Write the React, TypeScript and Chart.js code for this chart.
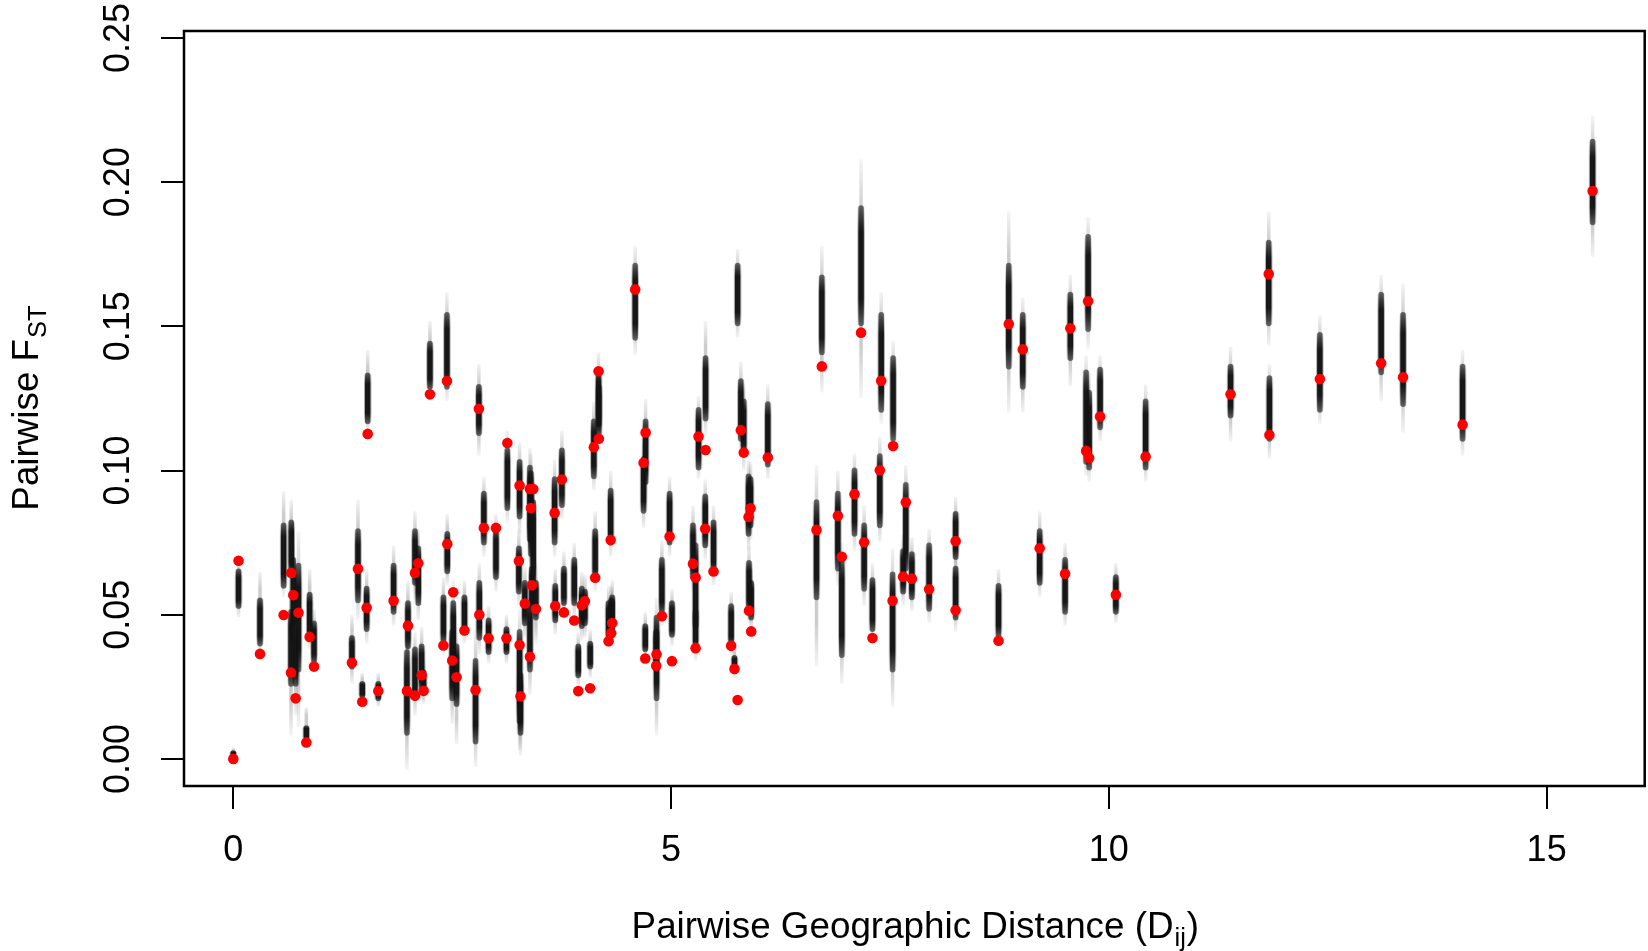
import React, { useEffect, useRef } from "react";
import { Chart, registerables } from "chart.js";

Chart.register(...registerables);

const FONT = '"Liberation Sans", Arial, Helvetica, sans-serif';

// Pairwise geographic distance (x) for every population pair
const distance = [
  0.0, 0.06, 0.305, 0.575, 0.662, 0.685, 0.659, 0.712, 0.745, 0.834,
  0.872, 0.922, 1.355, 1.424, 1.473, 1.523, 1.535, 1.656, 1.831, 1.995,
  1.983, 2.075, 2.075, 2.113, 2.151, 2.174, 2.246, 2.4, 2.44, 2.444,
  2.512, 2.5, 2.55, 2.64, 2.767, 2.805, 2.81, 2.862, 2.916, 3.0,
  3.12, 3.13, 3.262, 3.27, 3.28, 3.27, 3.33, 3.388, 3.4, 3.426,
  3.41, 3.388, 3.456, 3.753, 3.67, 3.677, 3.776, 3.894, 3.94, 3.98,
  4.016, 4.076, 4.118, 4.133, 4.172, 4.175, 4.286, 4.31, 4.316, 4.328,
  4.59, 4.686, 4.709, 4.705, 4.834, 4.83, 4.895, 4.983, 5.01, 5.25,
  5.28, 5.28, 5.314, 5.394, 5.39, 5.485, 5.686, 5.724, 5.76, 5.797,
  5.83, 5.885, 5.908, 5.89, 5.915, 6.105, 6.661, 6.722, 6.905, 6.95,
  7.095, 7.17, 7.205, 7.3, 7.384, 7.4, 7.53, 7.536, 7.65, 7.681,
  7.75, 7.947, 8.25, 8.25, 8.74, 8.857, 9.017, 9.21, 9.5, 9.56,
  9.74, 9.775, 9.763, 9.9, 10.08, 10.42, 11.39, 11.826, 11.834, 12.41,
  13.11, 13.36, 14.04, 15.525,
];

// Observed pairwise FST (red points)
const fstObserved = [
  0.0, 0.0687, 0.0364, 0.0499, 0.0645, 0.0568, 0.0299, 0.021, 0.0507, 0.0057,
  0.0423, 0.032, 0.0333, 0.0659, 0.0198, 0.0524, 0.1127, 0.0235, 0.0548, 0.0462,
  0.0235, 0.022, 0.0645, 0.0678, 0.029, 0.0236, 0.1264, 0.0393, 0.131, 0.0745,
  0.0578, 0.0341, 0.0283, 0.0445, 0.0239, 0.1214, 0.05, 0.0801, 0.0418, 0.0801,
  0.0418, 0.1095, 0.0686, 0.0395, 0.0217, 0.0948, 0.0539, 0.0354, 0.087, 0.0936,
  0.0602, 0.0936, 0.052, 0.0969, 0.0853, 0.053, 0.0508, 0.048, 0.0235, 0.0533,
  0.0547, 0.0245, 0.1081, 0.0628, 0.1344, 0.111, 0.0408, 0.0759, 0.0436, 0.0471,
  0.1628, 0.1027, 0.1132, 0.0348, 0.0363, 0.0323, 0.0495, 0.0771, 0.0339, 0.0677,
  0.0629, 0.0384, 0.1118, 0.1071, 0.0798, 0.065, 0.0392, 0.0312, 0.0204, 0.114,
  0.1062, 0.0839, 0.0869, 0.0514, 0.0442, 0.1045, 0.0794, 0.1361, 0.0843, 0.0701,
  0.0918, 0.1478, 0.0751, 0.0419, 0.1001, 0.1311, 0.0548, 0.1085, 0.0632, 0.089,
  0.0625, 0.0588, 0.0755, 0.0515, 0.041, 0.1508, 0.142, 0.073, 0.0642, 0.1493,
  0.1068, 0.1043, 0.1587, 0.1187, 0.0569, 0.1048, 0.1264, 0.1681, 0.1123, 0.1317,
  0.1372, 0.1323, 0.1159, 0.1969,
];

// Posterior FST: dense central range
const coreLow = [
  0.0, 0.052, 0.039, 0.059, 0.064, 0.04, 0.025, 0.025, 0.03, 0.0065,
  0.041, 0.033, 0.031, 0.054, 0.021, 0.044, 0.116, 0.02, 0.05, 0.038,
  0.008, 0.02, 0.06, 0.053, 0.024, 0.022, 0.128, 0.04, 0.128, 0.064,
  0.03, 0.02, 0.018, 0.043, 0.005, 0.112, 0.041, 0.074, 0.036, 0.062,
  0.036, 0.086, 0.057, 0.012, 0.008, 0.083, 0.046, 0.03, 0.07, 0.06,
  0.051, 0.075, 0.048, 0.087, 0.074, 0.047, 0.053, 0.053, 0.028, 0.045,
  0.046, 0.031, 0.097, 0.062, 0.115, 0.112, 0.041, 0.074, 0.042, 0.044,
  0.145, 0.085, 0.095, 0.037, 0.02, 0.03, 0.05, 0.074, 0.042, 0.062,
  0.045, 0.038, 0.1, 0.117, 0.073, 0.064, 0.039, 0.03, 0.15, 0.11,
  0.105, 0.077, 0.08, 0.051, 0.048, 0.101, 0.055, 0.14, 0.065, 0.035,
  0.077, 0.15, 0.058, 0.044, 0.08, 0.12, 0.03, 0.11, 0.057, 0.065,
  0.055, 0.051, 0.069, 0.048, 0.042, 0.135, 0.128, 0.06, 0.05, 0.138,
  0.102, 0.1, 0.148, 0.114, 0.05, 0.1, 0.118, 0.15, 0.11, 0.12,
  0.133, 0.122, 0.11, 0.185,
];
const coreHigh = [
  0.003, 0.066, 0.056, 0.082, 0.083, 0.07, 0.052, 0.045, 0.068, 0.0117,
  0.058, 0.048, 0.043, 0.08, 0.027, 0.06, 0.134, 0.027, 0.068, 0.055,
  0.038, 0.039, 0.08, 0.074, 0.04, 0.031, 0.145, 0.057, 0.155, 0.079,
  0.055, 0.045, 0.04, 0.057, 0.035, 0.13, 0.062, 0.093, 0.049, 0.08,
  0.046, 0.108, 0.074, 0.045, 0.03, 0.104, 0.062, 0.055, 0.1, 0.09,
  0.067, 0.102, 0.062, 0.108, 0.098, 0.061, 0.067, 0.07, 0.04, 0.06,
  0.059, 0.041, 0.118, 0.08, 0.135, 0.13, 0.055, 0.094, 0.056, 0.057,
  0.172, 0.105, 0.118, 0.047, 0.05, 0.045, 0.07, 0.093, 0.055, 0.082,
  0.075, 0.052, 0.122, 0.14, 0.092, 0.083, 0.054, 0.036, 0.172, 0.132,
  0.125, 0.099, 0.098, 0.069, 0.062, 0.124, 0.09, 0.168, 0.093, 0.07,
  0.101, 0.192, 0.082, 0.063, 0.106, 0.155, 0.065, 0.14, 0.073, 0.096,
  0.072, 0.075, 0.086, 0.067, 0.061, 0.172, 0.155, 0.08, 0.07, 0.162,
  0.135, 0.128, 0.182, 0.136, 0.064, 0.125, 0.137, 0.18, 0.133, 0.148,
  0.162, 0.155, 0.137, 0.215,
];

// Posterior FST: faint outer range
const tailLow = [
  0.0, 0.049, 0.036, 0.056, 0.06, 0.03, 0.008, 0.015, 0.011, 0.005,
  0.038, 0.03, 0.026, 0.048, 0.019, 0.04, 0.113, 0.018, 0.046, 0.032,
  -0.004, 0.015, 0.055, 0.048, 0.02, 0.019, 0.124, 0.036, 0.124, 0.06,
  0.022, 0.012, 0.005, 0.04, -0.003, 0.105, 0.036, 0.07, 0.033, 0.058,
  0.033, 0.082, 0.053, 0.003, 0.001, 0.078, 0.042, 0.022, 0.062, 0.05,
  0.046, 0.068, 0.04, 0.083, 0.07, 0.043, 0.049, 0.049, 0.025, 0.041,
  0.042, 0.028, 0.093, 0.058, 0.11, 0.108, 0.038, 0.07, 0.039, 0.04,
  0.14, 0.08, 0.09, 0.034, 0.008, 0.026, 0.046, 0.07, 0.039, 0.058,
  0.038, 0.034, 0.097, 0.112, 0.069, 0.06, 0.036, 0.028, 0.146, 0.105,
  0.1, 0.072, 0.076, 0.047, 0.044, 0.097, 0.032, 0.127, 0.06, 0.026,
  0.072, 0.125, 0.053, 0.04, 0.075, 0.116, 0.018, 0.105, 0.053, 0.06,
  0.051, 0.047, 0.065, 0.044, 0.039, 0.12, 0.12, 0.056, 0.046, 0.129,
  0.098, 0.096, 0.142, 0.11, 0.047, 0.096, 0.11, 0.143, 0.104, 0.116,
  0.124, 0.113, 0.105, 0.174,
];
const tailHigh = [
  0.004, 0.07, 0.065, 0.093, 0.09, 0.082, 0.062, 0.055, 0.079, 0.018,
  0.066, 0.052, 0.05, 0.09, 0.03, 0.066, 0.142, 0.03, 0.074, 0.062,
  0.048, 0.044, 0.086, 0.08, 0.046, 0.035, 0.152, 0.063, 0.162, 0.085,
  0.062, 0.05, 0.046, 0.062, 0.045, 0.137, 0.068, 0.098, 0.053, 0.085,
  0.05, 0.114, 0.08, 0.052, 0.036, 0.11, 0.067, 0.06, 0.106, 0.098,
  0.072, 0.108, 0.068, 0.114, 0.104, 0.066, 0.072, 0.075, 0.044, 0.065,
  0.064, 0.045, 0.124, 0.086, 0.141, 0.136, 0.06, 0.1, 0.06, 0.062,
  0.178, 0.11, 0.125, 0.051, 0.056, 0.05, 0.076, 0.098, 0.059, 0.088,
  0.08, 0.058, 0.126, 0.152, 0.097, 0.088, 0.058, 0.04, 0.177, 0.138,
  0.13, 0.104, 0.103, 0.074, 0.066, 0.13, 0.102, 0.178, 0.1, 0.075,
  0.106, 0.208, 0.088, 0.068, 0.112, 0.162, 0.073, 0.145, 0.078, 0.102,
  0.077, 0.08, 0.091, 0.072, 0.066, 0.19, 0.16, 0.086, 0.075, 0.168,
  0.14, 0.134, 0.188, 0.14, 0.068, 0.13, 0.143, 0.19, 0.137, 0.154,
  0.168, 0.165, 0.142, 0.223,
];

const xTickValues = [0, 5, 10, 15];
const yTickValues = [0, 0.05, 0.1, 0.15, 0.2, 0.25];
const X_MIN = -0.563;
const X_MAX = 16.12;
const Y_MIN = -0.0094;
const Y_MAX = 0.2524;

const xTitleMain = "Pairwise Geographic Distance (D";
const xTitleSub = "ij";
const xTitleEnd = ")";
const yTitleMain = "Pairwise F";
const yTitleSub = "ST";

// vertical fade so that each posterior smudge tapers at its ends
function fadeFill(alphaEnd: number, alphaMid: number, shade: number) {
  return (c: any) => {
    const chart = c.chart;
    const raw = c.raw;
    const ys = chart && chart.scales ? chart.scales.y : null;
    const col = (a: number) => `rgba(${shade},${shade},${shade},${a})`;
    if (!ys || !raw || !Array.isArray(raw.y)) return col(alphaMid);
    const top = ys.getPixelForValue(raw.y[1]);
    const bot = ys.getPixelForValue(raw.y[0]);
    if (!isFinite(top) || !isFinite(bot) || Math.abs(bot - top) < 1) return col(alphaMid);
    const g = chart.ctx.createLinearGradient(0, top, 0, bot);
    g.addColorStop(0, col(alphaEnd));
    g.addColorStop(0.22, col(alphaMid));
    g.addColorStop(0.78, col(alphaMid));
    g.addColorStop(1, col(alphaEnd));
    return g;
  };
}

const boxPlugin = {
  id: "plotBox",
  afterDatasetsDraw(chart: any) {
    const { ctx, chartArea: a } = chart;
    ctx.save();
    ctx.strokeStyle = "#000";
    ctx.lineWidth = 2.5;
    ctx.strokeRect(a.left, a.top, a.right - a.left, a.bottom - a.top);
    ctx.restore();
  },
};

const titlePlugin = {
  id: "axisTitles",
  afterDraw(chart: any) {
    const { ctx, chartArea: a } = chart;
    const main = `36.8px ${FONT}`;
    const sub = `25.5px ${FONT}`;
    ctx.save();
    ctx.fillStyle = "#000";
    ctx.textAlign = "left";
    ctx.textBaseline = "alphabetic";

    // x title
    ctx.font = main;
    const w1 = ctx.measureText(xTitleMain).width;
    const w3 = ctx.measureText(xTitleEnd).width;
    ctx.font = sub;
    const w2 = ctx.measureText(xTitleSub).width;
    const cx = (a.left + a.right) / 2;
    const x0 = cx - (w1 + w2 + w3) / 2;
    const by = a.bottom + 152;
    ctx.font = main;
    ctx.fillText(xTitleMain, x0, by);
    ctx.font = sub;
    ctx.fillText(xTitleSub, x0 + w1 + 1, by + 8);
    ctx.font = main;
    ctx.fillText(xTitleEnd, x0 + w1 + w2 + 2, by);

    // y title
    ctx.font = main;
    const v1 = ctx.measureText(yTitleMain).width;
    ctx.font = sub;
    const v2 = ctx.measureText(yTitleSub).width;
    const cy = (a.top + a.bottom) / 2;
    ctx.translate(38, cy);
    ctx.rotate(-Math.PI / 2);
    const y0 = -(v1 + v2) / 2;
    ctx.font = main;
    ctx.fillText(yTitleMain, y0, 0);
    ctx.font = sub;
    ctx.fillText(yTitleSub, y0 + v1 + 1, 8);
    ctx.restore();
  },
};

export default function App() {
  const ref = useRef<HTMLCanvasElement>(null);

  useEffect(() => {
    if (!ref.current) return;
    const idx = distance.map((_, i) => i);
    const tails = idx.map((i) => ({ x: distance[i], y: [tailLow[i], tailHigh[i]] }));
    const core = idx.map((i) => ({ x: distance[i], y: [coreLow[i], coreHigh[i]] }));
    const observed = idx.map((i) => ({ x: distance[i], y: fstObserved[i] }));

    const chart = new Chart(ref.current, {
      type: "bar",
      data: {
        datasets: [
          {
            type: "scatter",
            label: "Observed FST",
            data: observed,
            order: 0,
            pointRadius: 5.3,
            pointHoverRadius: 5.3,
            pointBackgroundColor: "#ff0000",
            pointBorderWidth: 0,
            backgroundColor: "#ff0000",
            borderColor: "#ff0000",
          } as any,
          {
            type: "bar",
            label: "Posterior core",
            data: core as any,
            order: 1,
            grouped: false,
            barThickness: 5.5,
            backgroundColor: fadeFill(0.55, 0.96, 18),
            borderWidth: 0,
            borderRadius: 2.75,
            borderSkipped: false,
            inflateAmount: 0,
          } as any,
          {
            type: "bar",
            label: "Posterior halo",
            data: core as any,
            order: 2,
            grouped: false,
            barThickness: 7.5,
            backgroundColor: fadeFill(0.05, 0.3, 0),
            borderWidth: 0,
            borderRadius: 3.75,
            borderSkipped: false,
            inflateAmount: 0,
          } as any,
          {
            type: "bar",
            label: "Posterior tails",
            data: tails as any,
            order: 3,
            grouped: false,
            barThickness: 3.5,
            backgroundColor: fadeFill(0.04, 0.2, 0),
            borderWidth: 0,
            borderRadius: 1.75,
            borderSkipped: false,
            inflateAmount: 0,
          } as any,
        ],
      },
      options: {
        animation: false,
        responsive: false,
        devicePixelRatio: 1,
        events: [],
        layout: { autoPadding: false, padding: { top: 31, right: 3.3, left: 0, bottom: 0 } },
        plugins: {
          legend: { display: false },
          tooltip: { enabled: false },
          title: { display: false },
        },
        scales: {
          x: {
            type: "linear",
            min: X_MIN,
            max: X_MAX,
            bounds: "data",
            offset: false,
            grid: {
              display: true,
              drawOnChartArea: false,
              drawTicks: true,
              tickLength: 23,
              color: "#000",
              lineWidth: 2,
              offset: false,
            },
            border: { display: false },
            ticks: {
              font: { size: 36, family: FONT },
              color: "#000",
              padding: 20,
              minRotation: 0,
              maxRotation: 0,
              autoSkip: false,
            },
            afterBuildTicks: (s: any) => {
              s.ticks = xTickValues.map((v) => ({ value: v }));
            },
            afterFit: (s: any) => {
              s.height = 165;
              s.paddingLeft = 0;
              s.paddingRight = 0;
            },
          },
          y: {
            type: "linear",
            min: Y_MIN,
            max: Y_MAX,
            bounds: "data",
            stacked: false,
            beginAtZero: false,
            grid: {
              display: true,
              drawOnChartArea: false,
              drawTicks: true,
              tickLength: 23,
              color: "#000",
              lineWidth: 2,
            },
            border: { display: false },
            ticks: {
              font: { size: 36, family: FONT },
              color: "#000",
              padding: 7,
              minRotation: 90,
              maxRotation: 90,
              crossAlign: "center",
              autoSkip: false,
              callback: (v: any) => Number(v).toFixed(2),
            },
            afterBuildTicks: (s: any) => {
              s.ticks = yTickValues.map((v) => ({ value: v }));
            },
            afterFit: (s: any) => {
              s.width = 184;
              s.paddingTop = 0;
              s.paddingBottom = 0;
            },
          },
        },
      } as any,
      plugins: [boxPlugin, titlePlugin],
    });

    return () => chart.destroy();
  }, []);

  return (
    <div style={{ position: "fixed", left: 0, top: 0, width: 1648, height: 951, background: "#fff" }}>
      <canvas ref={ref} width={1648} height={951} style={{ display: "block", width: 1648, height: 951 }} />
    </div>
  );
}
